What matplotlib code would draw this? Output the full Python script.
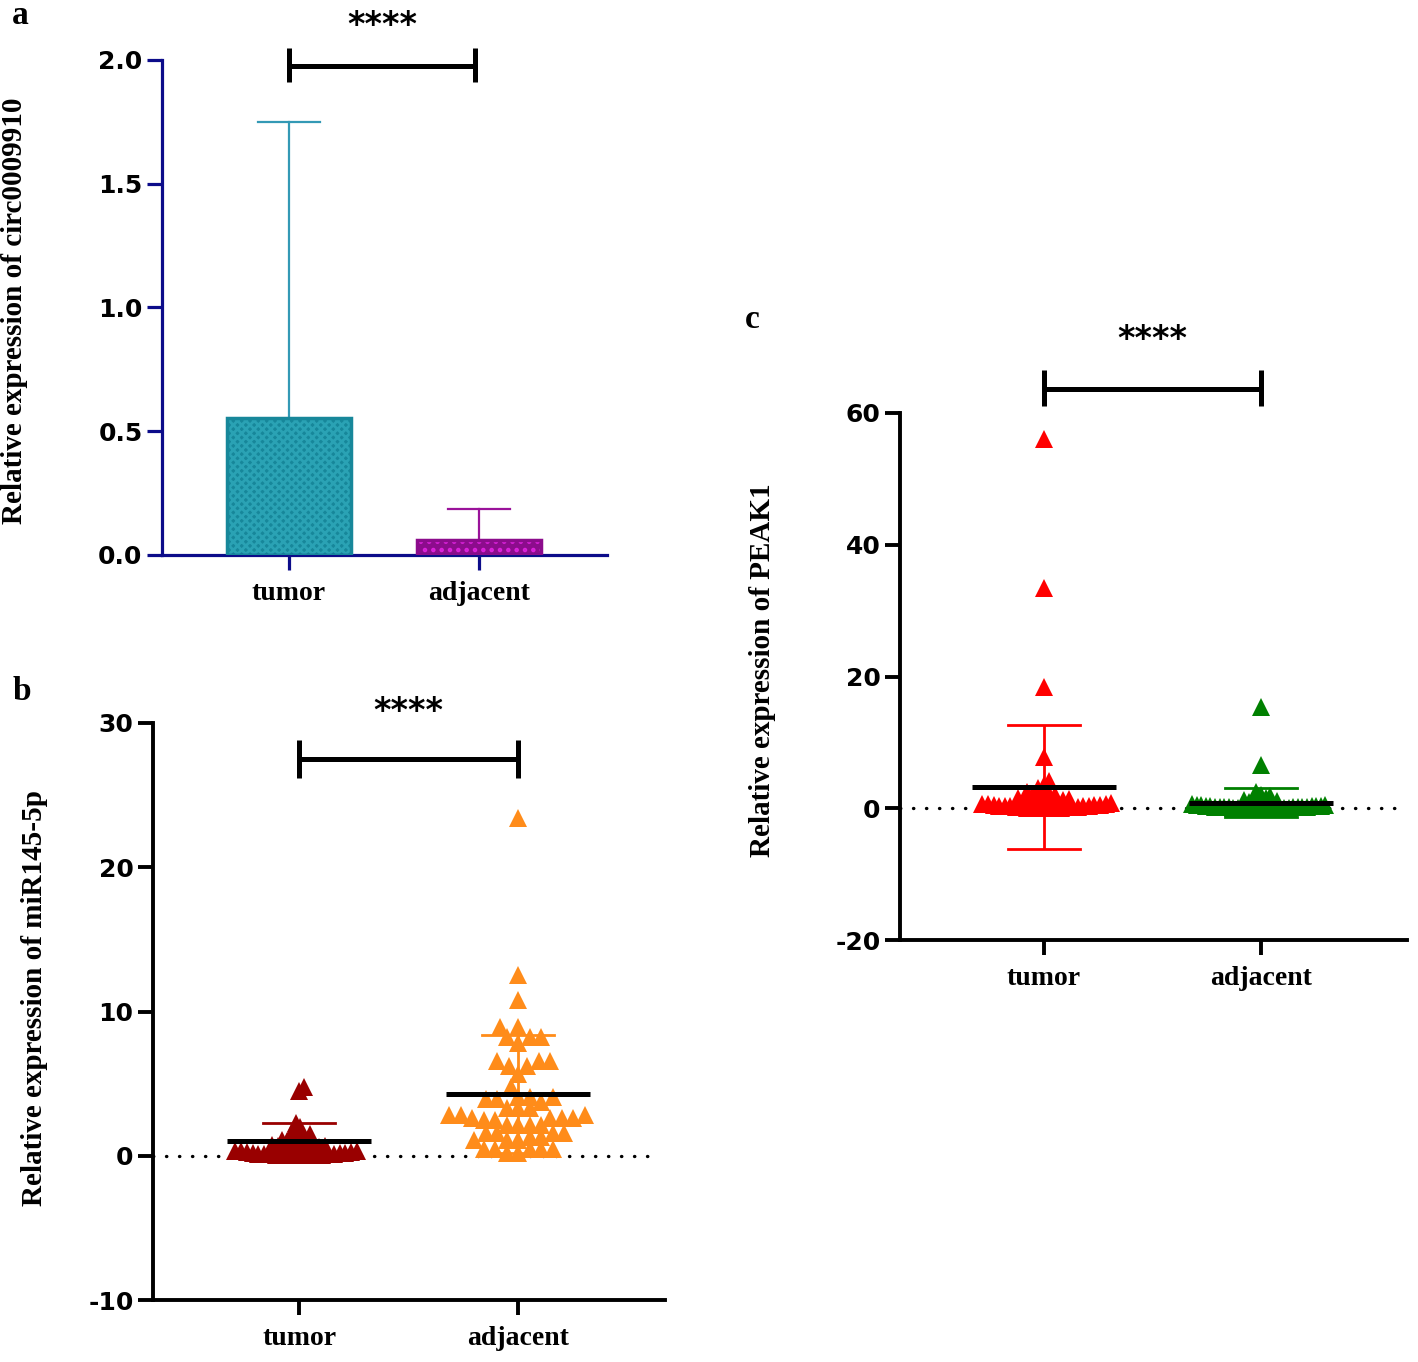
import numpy as np
import matplotlib.pyplot as plt

plt.rcParams['axes.unicode_minus'] = False

groups = ['tumor', 'adjacent']

# panel a: circ0009910 (bar = mean, whisker = SD)
circ_mean = [0.555, 0.06]
circ_sd = [1.195, 0.125]

# panel b: miR145-5p
mir_tumor = [4.8, 4.5, 2.3, 2.0, 1.8, 1.6, 1.5, 1.4, 1.3, 1.2, 1.1, 1.0, 0.95, 0.9,
             0.85, 0.8, 0.75, 0.7, 0.65, 0.6, 0.55, 0.5, 0.5, 0.45, 0.4, 0.4, 0.35,
             0.3, 0.3, 0.25, 0.25, 0.2, 0.2, 0.18, 0.15, 0.15, 0.12, 0.1, 0.1, 0.08,
             0.08, 0.06, 0.05, 0.05, 0.04, 0.03, 0.03, 0.02]
mir_adjacent = [23.4, 12.5, 10.8, 8.9, 8.9, 8.2, 8.2, 8.2, 7.8, 6.6, 6.6, 6.6, 6.2,
                6.2, 5.7, 4.8, 4.1, 4.1, 4.1, 3.9, 3.9, 3.7, 3.3, 3.3, 3.3, 2.8, 2.8,
                2.8, 2.6, 2.6, 2.6, 2.6, 2.5, 2.5, 2.1, 2.1, 2.1, 2.1, 1.6, 1.6, 1.6,
                1.6, 1.3, 1.3, 1.1, 1.1, 1.1, 0.5, 0.5, 0.5, 0.5, 0.5, 0.2, 0.2]
mir_mean = [1.0, 4.3]
mir_sd = [1.3, 4.1]

# panel c: PEAK1
peak_tumor = [56.0, 33.5, 18.4, 7.8, 4.2, 3.6, 3.0, 2.6, 2.4, 2.2, 2.0, 1.9, 1.8, 1.6,
              1.5, 1.4, 1.3, 1.2, 1.1, 1.0, 0.95, 0.9, 0.85, 0.8, 0.75, 0.7, 0.65, 0.6,
              0.55, 0.5, 0.45, 0.4, 0.4, 0.35, 0.3, 0.3, 0.25, 0.2, 0.2, 0.15, 0.15,
              0.1, 0.1, 0.08, 0.05, 0.05, 0.03, 0.02]
peak_adjacent = [15.4, 6.5, 2.4, 2.0, 1.8, 1.6, 1.5, 1.3, 1.2, 1.1, 1.0, 0.9, 0.85, 0.8,
                 0.7, 0.65, 0.6, 0.55, 0.5, 0.45, 0.4, 0.4, 0.35, 0.3, 0.3, 0.25, 0.25,
                 0.2, 0.2, 0.18, 0.15, 0.15, 0.12, 0.1, 0.1, 0.08, 0.08, 0.06, 0.05,
                 0.05, 0.04, 0.03, 0.03, 0.02, 0.02, 0.01]
peak_mean = [3.2, 0.8]
peak_sd = [9.4, 2.2]

SERIF = 'Liberation Serif'
TICKFONT = 'DejaVu Sans'


def swarm_x(ax, values, center, d):
    # simple beeswarm: place points in pixel space, closest to center first
    vals = np.asarray(values, dtype=float)
    pix = ax.transData.transform(np.column_stack([np.full(len(vals), center), vals]))
    cx = pix[0, 0]
    step = d / 5.0
    placed = []
    xs = np.zeros(len(vals))
    for i in np.argsort(vals):
        y = pix[i, 1]
        k = 0
        while True:
            offs = [0.0] if k == 0 else [k * step, -k * step]
            if k % 2:
                offs = offs[::-1]
            ok = None
            for off in offs:
                x = cx + off
                if all((x - px) ** 2 + (y - py) ** 2 >= d * d for px, py in placed):
                    ok = x
                    break
            if ok is not None:
                placed.append((ok, y))
                xs[i] = ok
                break
            k += 1
    back = ax.transData.inverted().transform(np.column_stack([xs, pix[:, 1]]))
    return back[:, 0]


def style_axes(ax, color, lw):
    for s in ['top', 'right']:
        ax.spines[s].set_visible(False)
    for s in ['left', 'bottom']:
        ax.spines[s].set_color(color)
        ax.spines[s].set_linewidth(lw)
    ax.tick_params(axis='both', colors=color, width=lw, length=11)
    ax.tick_params(axis='y', labelcolor='black', pad=3)
    ax.tick_params(axis='x', labelcolor='black', pad=8)
    for lab in ax.get_yticklabels():
        lab.set_fontfamily(TICKFONT)
        lab.set_fontweight('bold')
        lab.set_fontsize(18)
    for lab in ax.get_xticklabels():
        lab.set_fontfamily(SERIF)
        lab.set_fontweight('bold')
        lab.set_fontsize(20)


def bracket(ax, y, tick_lo, tick_hi, star_y, x0=0.0, x1=1.0):
    kw = dict(color='black', lw=3.6, clip_on=False, solid_capstyle='butt')
    ax.plot([x0, x1], [y, y], **kw)
    ax.plot([x0, x0], [tick_lo, tick_hi], **kw)
    ax.plot([x1, x1], [tick_lo, tick_hi], **kw)
    ax.text((x0 + x1) / 2, star_y, '****', ha='center', va='center',
            fontsize=24, fontweight='bold', family=TICKFONT, clip_on=False)


def scatter_panel(ax, data, colors, means, sds, dists, ms):
    x = np.arange(len(groups))
    for i, (vals, col, d) in enumerate(zip(data, colors, dists)):
        xs = swarm_x(ax, vals, x[i], d)
        ax.plot(xs, vals, linestyle='none', marker='^', ms=ms, color=col,
                markeredgewidth=0, zorder=3, clip_on=False)
        ax.errorbar(x[i], means[i], yerr=sds[i], color=col, capsize=0, lw=2, zorder=4)
        ax.plot([x[i] - 0.165, x[i] + 0.165], [means[i] + sds[i]] * 2, color=col, lw=2, zorder=4)
        ax.plot([x[i] - 0.165, x[i] + 0.165], [means[i] - sds[i]] * 2, color=col, lw=2, zorder=4)
        ax.plot([x[i] - 0.33, x[i] + 0.33], [means[i]] * 2, color='black', lw=3.6,
                zorder=5, solid_capstyle='butt')
    ax.axhline(0, xmax=0.98, color='black', lw=2.4, linestyle=(0, (0.1, 3.8)),
               dash_capstyle='round', zorder=2)


fig = plt.figure(figsize=(14.18, 13.62), dpi=100)

# ---------------- panel a ----------------
ax_a = fig.add_axes([162 / 1418, 1 - 555 / 1362, 445 / 1418, 495 / 1362])
x = np.arange(len(groups))
ax_a.set_xlim(-0.668, 1.674)
ax_a.set_ylim(0, 2.0)
plt.rcParams['hatch.linewidth'] = 2.0
bar_cols = ['#17879a', '#8c0c8c']
hatch_cols = ['#2aa2b4', '#dd22dd']
err_cols = ['#3399b5', '#9a129a']
hatches = ['xxxx', '..']
for i in range(len(groups)):
    ax_a.bar(x[i], circ_mean[i], width=0.65, color=bar_cols[i],
             edgecolor=hatch_cols[i], hatch=hatches[i], linewidth=0, zorder=2)
    ax_a.bar(x[i], circ_mean[i], width=0.65, facecolor='none',
             edgecolor=bar_cols[i], linewidth=2.5, zorder=3)
    top = circ_mean[i] + circ_sd[i]
    ax_a.plot([x[i], x[i]], [circ_mean[i], top], color=err_cols[i], lw=1.6, zorder=1)
    ax_a.plot([x[i] - 0.165, x[i] + 0.165], [top, top], color=err_cols[i], lw=1.6, zorder=1)
ax_a.set_xticks(x)
ax_a.set_xticklabels(groups)
ax_a.set_yticks([0, 0.5, 1.0, 1.5, 2.0])
ax_a.set_yticklabels(['0.0', '0.5', '1.0', '1.5', '2.0'])
style_axes(ax_a, '#0c0c8a', 2.3)
bracket(ax_a, 1.976, 1.91, 2.05, 2.14, 0.0, 0.98)

# ---------------- panel b ----------------
ax_b = fig.add_axes([153 / 1418, 1 - 1300 / 1362, 512 / 1418, 577 / 1362])
ax_b.set_xlim(-0.667, 1.671)
ax_b.set_ylim(-10, 30)
ax_b.set_xticks(x)
ax_b.set_xticklabels(groups)
ax_b.set_yticks([-10, 0, 10, 20, 30])
scatter_panel(ax_b, [mir_tumor, mir_adjacent], ['#990000', '#ff8c1a'],
              mir_mean, mir_sd, [5.8, 11.5], 12.5)
style_axes(ax_b, 'black', 2.8)
bracket(ax_b, 27.5, 26.2, 28.8, 30.8)

# ---------------- panel c ----------------
ax_c = fig.add_axes([900 / 1418, 1 - 940 / 1362, 507 / 1418, 527 / 1362])
ax_c.set_xlim(-0.664, 1.673)
ax_c.set_ylim(-20, 60)
ax_c.set_xticks(x)
ax_c.set_xticklabels(groups)
ax_c.set_yticks([-20, 0, 20, 40, 60])
scatter_panel(ax_c, [peak_tumor, peak_adjacent], ['#ff0000', '#008000'],
              peak_mean, peak_sd, [5.6, 4.6], 13)
style_axes(ax_c, 'black', 2.8)
bracket(ax_c, 63.7, 61.0, 66.6, 71.2)

# axis titles and panel letters
lab_kw = dict(rotation=90, ha='center', va='center', fontsize=21,
              fontweight='bold', family=SERIF)
fig.text(15 / 1418, 1 - 311 / 1362, 'Relative expression of circ0009910', **lab_kw)
fig.text(35 / 1418, 1 - 998 / 1362, 'Relative expression of miR145-5p', **lab_kw)
fig.text(762 / 1418, 1 - 670 / 1362, 'Relative expression of PEAK1', **lab_kw)

let_kw = dict(ha='center', va='center', fontsize=24, fontweight='bold', family=SERIF)
fig.text(20 / 1418, 1 - 16 / 1362, 'a', **let_kw)
fig.text(22 / 1418, 1 - 692 / 1362, 'b', **let_kw)
fig.text(752 / 1418, 1 - 320 / 1362, 'c', **let_kw)

fig.savefig('out.png', dpi=100)
plt.close(fig)
